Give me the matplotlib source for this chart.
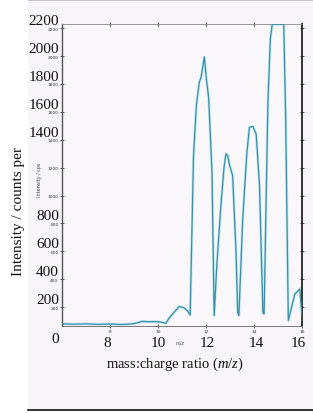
import matplotlib
matplotlib.use("Agg")
import matplotlib.pyplot as plt
from matplotlib.patches import Rectangle

plt.rcParams["mathtext.fontset"] = "custom"
plt.rcParams["mathtext.it"] = "Liberation Serif:italic"
plt.rcParams["mathtext.rm"] = "Liberation Serif"

# ---- data ----
mz = [6.0, 6.5, 7.0, 7.5, 8.0, 8.4, 8.7, 9.0, 9.34, 9.6, 9.97, 10.15, 10.32,
      10.5, 10.67, 10.88, 11.1, 11.25, 11.34, 11.48, 11.6, 11.72, 11.8, 11.93,
      12.02, 12.11, 12.25, 12.34, 12.45, 12.62, 12.75, 12.83, 12.9, 12.97,
      13.11, 13.25, 13.32, 13.37, 13.53, 13.7, 13.81, 13.95, 14.09, 14.23,
      14.37, 14.42, 14.58, 14.68, 14.76, 15.24, 15.32, 15.43, 15.70, 15.91,
      15.97, 16.02]
intensity = [80, 78, 80, 77, 79, 76, 77, 82, 98, 96, 96, 92, 84,
             130, 163, 205, 195, 170, 143, 1286, 1650, 1812, 1850, 1995,
             1830, 1704, 1169, 138, 500, 927, 1200, 1298, 1290, 1226,
             1142, 600, 163, 138, 832, 1300, 1489, 1496, 1441, 1070,
             163, 150, 1668, 2122, 2228, 2228, 1549, 103, 294, 330,
             200, 93]

x_ticks = [8, 10, 12, 14, 16]
y_ticks = [200, 400, 600, 800, 1000, 1200, 1400, 1600, 1800, 2000, 2200]
big_y_labels = [200, 400, 600, 800, 1400, 1600, 1800, 2000, 2200]
big_x_labels = [8, 10, 12, 14, 16]

W, H = 313, 414
fig = plt.figure(figsize=(W / 100, H / 100), dpi=100)
fig.patch.set_facecolor("white")

def fx(px):
    return px / W

def fy(py):
    return 1 - py / H

# scanned paper background
fig.add_artist(Rectangle((fx(28), fy(411)), 1 - fx(28), fy(0) - fy(411),
                         transform=fig.transFigure, facecolor="#f8f5fa",
                         edgecolor="none", zorder=0))
fig.add_artist(plt.Line2D([fx(28), 1], [fy(411), fy(411)],
                          transform=fig.transFigure, color="#111111", lw=1.2))
fig.add_artist(plt.Line2D([fx(28), 1], [fy(1), fy(1)],
                          transform=fig.transFigure, color="#c8c4cc", lw=0.8))

ax = fig.add_axes([fx(62), fy(327), fx(302) - fx(62), fy(25) - fy(327)])
ax.set_facecolor("#faf7fb")
ax.set_xlim(6, 16)
ax.set_ylim(65, 2230)

ax.plot(mz, intensity, color="#bfe8ef", lw=2.0, solid_joinstyle="miter", zorder=2)
ax.plot(mz, intensity, color="#3d8ea6", lw=0.9, zorder=3)

ax.set_xticks(x_ticks)
ax.set_yticks(y_ticks)
ax.set_xticklabels([str(v) for v in x_ticks], fontsize=3.2, color="#444444")
ax.set_yticklabels([str(v) for v in y_ticks], fontsize=3.2, color="#444444")
ax.tick_params(axis="both", direction="inout", length=3, width=0.6,
               colors="#333333", pad=1)
ax.tick_params(top=True, right=True)
ax.tick_params(axis="x", pad=0.5)

ax.spines["left"].set_color("#555555")
ax.spines["left"].set_linewidth(1.0)
ax.spines["bottom"].set_color("#777777")
ax.spines["bottom"].set_linewidth(0.7)
ax.spines["top"].set_color("#888888")
ax.spines["top"].set_linewidth(0.6)
ax.spines["right"].set_color("#111111")
ax.spines["right"].set_linewidth(1.2)

serif = "Liberation Serif"
# big overlaid labels
for v in big_y_labels:
    py = 336 - v / 200 * 27.9 - 7.5
    fig.text(fx(59), fy(py), str(v), ha="right", va="center",
             fontsize=11, family=serif, color="#111111")
fig.text(fx(55), fy(340), "0", ha="center", va="center",
         fontsize=11, family=serif, color="#111111")
big_x_pos = [107, 158, 207, 256, 298]
for v, px in zip(big_x_labels, big_x_pos):
    fig.text(fx(px), fy(344), str(v), ha="center", va="center",
             fontsize=11, family=serif, color="#111111")

fig.text(fx(175), fy(364), "mass:charge ratio ($m/z$)", ha="center",
         va="center", fontsize=10.5, family=serif, color="#111111")
fig.text(fx(19), fy(212), "Intensity / counts per", ha="center", va="center",
         rotation=90, fontsize=11, family=serif, color="#111111")

# small original labels
fig.text(fx(40), fy(180), "Intensity / cps", ha="center", va="center",
         rotation=90, fontsize=3.5, color="#444444")
fig.text(fx(180), fy(343), "m/z", ha="center", va="center",
         fontsize=3.5, style="italic", color="#444444")

fig.savefig("out.png", dpi=100, facecolor=fig.get_facecolor())
